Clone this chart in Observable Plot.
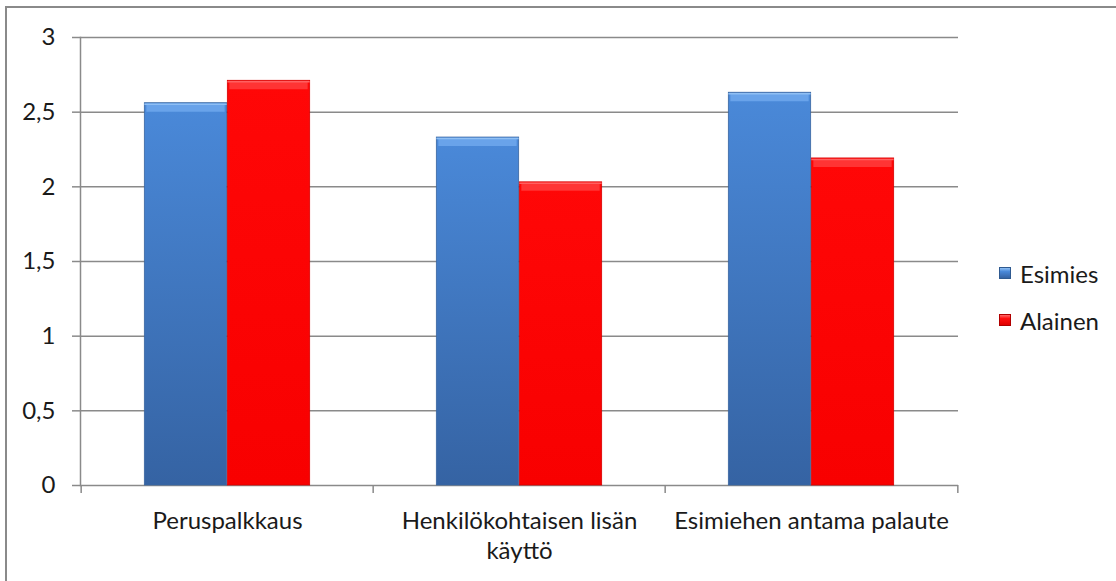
<!DOCTYPE html>
<html>
<head>
<meta charset="utf-8">
<script src="https://cdn.jsdelivr.net/npm/d3@7"></script>
<script src="https://cdn.jsdelivr.net/npm/@observablehq/plot@0.6"></script>
<style>
  html, body { margin: 0; padding: 0; background: #fff; }
  #wrap { position: relative; width: 1116px; height: 581px; overflow: hidden; font-family: Lato, sans-serif; }
  #border { position: absolute; left: 5px; top: 6px; right: -4px; bottom: -4px;
            border-left: 2px solid #8a8a8a; border-top: 2px solid #8a8a8a; }
  #chart { position: absolute; left: 0; top: 0; }
  .legend { position: absolute; left: 999px; font-size: 24px; color: #1a1a1a; }
  .legend .item { position: absolute; left: 0; display: flex; align-items: center; white-space: nowrap; height: 30px; }
  .legend .sw { width: 12px; height: 12px; margin-right: 9px; box-sizing: border-box; }
</style>
</head>
<body>
<div id="wrap">
  <div id="border"></div>
  <div id="chart"></div>
  <div class="legend" id="legend"></div>
</div>
<script>
// Survey means by topic, for supervisors (Esimies) and subordinates (Alainen)
const categories = ["Peruspalkkaus", "Henkilökohtaisen lisän käyttö", "Esimiehen antama palaute"];
const tickLabels = ["Peruspalkkaus", "Henkilökohtaisen lisän\nkäyttö", "Esimiehen antama palaute"];
const series = ["Esimies", "Alainen"];
const esimies = [2.56, 2.33, 2.63];
const alainen = [2.71, 2.03, 2.19];
const yTicks = [0, 0.5, 1, 1.5, 2, 2.5, 3];

const W = 1116, H = 581;
const margin = {left: 80, right: 158, top: 37, bottom: 96};
const bw = (W - margin.left - margin.right) / categories.length; // band width
const barW = 83;
const grid = "#8a8a8a";

const rowsFor = (name, values) => categories.map((c, i) => ({category: c, series: name, value: values[i]}));
const rowsE = rowsFor(series[0], esimies);
const rowsA = rowsFor(series[1], alainen);

// inner offsets of each series within its category band
const insE = {insetLeft: bw / 2 - barW, insetRight: bw / 2};
const insA = {insetLeft: bw / 2, insetRight: bw / 2 - barW};

// gradient definitions used by the bars
function defs() {
  const d = d3.create("svg:defs");
  const g1 = d.append("linearGradient").attr("id", "gBlue").attr("x1", 0).attr("y1", 0).attr("x2", 0).attr("y2", 1);
  g1.append("stop").attr("offset", "0%").attr("stop-color", "#4a89d9");
  g1.append("stop").attr("offset", "100%").attr("stop-color", "#3563a3");
  const g2 = d.append("linearGradient").attr("id", "gRed").attr("x1", 0).attr("y1", 0).attr("x2", 0).attr("y2", 1);
  g2.append("stop").attr("offset", "0%").attr("stop-color", "#ff0707");
  g2.append("stop").attr("offset", "100%").attr("stop-color", "#f80000");
  return d.node();
}

const chart = Plot.plot({
  width: W,
  height: H,
  marginLeft: margin.left,
  marginRight: margin.right,
  marginTop: margin.top,
  marginBottom: margin.bottom,
  style: {fontFamily: "Lato, sans-serif", fontSize: "24px", color: "#1a1a1a", background: "transparent"},
  x: {domain: categories, padding: 0, axis: null, label: null},
  y: {domain: [0, 3], axis: null, label: null},
  marks: [
    defs,
    Plot.ruleY(yTicks, {stroke: grid, strokeWidth: 1.5}),
    Plot.frame({anchor: "left", stroke: grid, strokeWidth: 1.5}),
    // category boundary ticks below the baseline
    Plot.ruleX(categories, {x: d => d, y1: 0, y2: 0, insetBottom: -8, dx: -bw / 2, stroke: grid, strokeWidth: 1.5}),
    Plot.ruleX(categories.slice(-1), {x: d => d, y1: 0, y2: 0, insetBottom: -8, dx: bw / 2, stroke: grid, strokeWidth: 1.5}),
    Plot.axisY({ticks: yTicks, tickSize: 8, tickPadding: 17, stroke: grid, strokeWidth: 1.5, fill: "#1a1a1a", label: null,
                tickFormat: d => String(d).replace(".", ",")}),
    Plot.axisX({tickSize: 0, tickPadding: 22, fill: "#1a1a1a", lineHeight: 1.25, label: null,
                tickFormat: d => tickLabels[categories.indexOf(d)]}),
    // bars
    Plot.barY(rowsE, {x: "category", y: "value", ...insE, fill: "url(#gBlue)", stroke: "#3a66a0", strokeWidth: 0.8}),
    Plot.barY(rowsA, {x: "category", y: "value", ...insA, fill: "url(#gRed)", stroke: "#d80000", strokeWidth: 0.8}),
    // bevelled top edge
    Plot.tickY(rowsE, {x: "category", y: "value", dy: 4.5, strokeWidth: 8, stroke: "#69a3ea", insetLeft: insE.insetLeft + 2, insetRight: insE.insetRight + 2}),
    Plot.tickY(rowsE, {x: "category", y: "value", ...insE, dy: 1, strokeWidth: 1.5, stroke: "#8fbff4"}),
    Plot.tickY(rowsA, {x: "category", y: "value", dy: 4.5, strokeWidth: 8, stroke: "#ff3434", insetLeft: insA.insetLeft + 2, insetRight: insA.insetRight + 2}),
    Plot.tickY(rowsA, {x: "category", y: "value", ...insA, dy: 1, strokeWidth: 1.5, stroke: "#ff6060"})
  ]
});
document.getElementById("chart").appendChild(chart);

// legend
const swatches = {
  Esimies: "linear-gradient(#8fbff4 0%, #4a89d9 35%, #3563a3 100%)",
  Alainen: "linear-gradient(#ff6a6a 0%, #ff1010 35%, #e00000 100%)"
};
const legendTops = [258, 305];
const legend = d3.select("#legend");
series.forEach((s, i) => {
  const item = legend.append("div").attr("class", "item").style("top", legendTops[i] + "px");
  item.append("div").attr("class", "sw").style("background", swatches[s])
      .style("border", "1px solid " + (i === 0 ? "#2f5a90" : "#b00000"));
  item.append("span").text(s);
});
</script>
</body>
</html>
